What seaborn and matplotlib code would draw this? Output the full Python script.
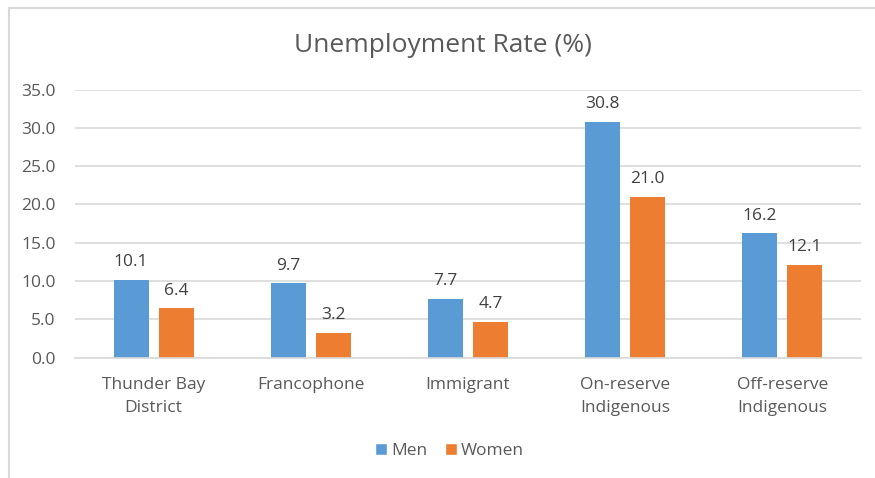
import matplotlib
matplotlib.use("Agg")
import matplotlib.pyplot as plt
import seaborn as sns
import pandas as pd
from matplotlib.patches import Rectangle, Patch

categories = ["Thunder Bay\nDistrict", "Francophone", "Immigrant", "On-reserve\nIndigenous", "Off-reserve\nIndigenous"]
men = [10.1, 9.7, 7.7, 30.8, 16.2]
women = [6.4, 3.2, 4.7, 21.0, 12.1]
series = ["Men", "Women"]
colors = ["#5B9BD5", "#ED7D31"]
yticks = [0, 5, 10, 15, 20, 25, 30, 35]

df = pd.DataFrame({
    "category": categories * 2,
    "value": men + women,
    "series": [series[0]] * len(categories) + [series[1]] * len(categories),
})

sns.set_theme(style="white")
plt.rcParams["font.family"] = ["Open Sans", "DejaVu Sans"]
txt = "#595959"
fs = 12.5

fig = plt.figure(figsize=(8.75, 4.78), dpi=100)
ax = fig.add_axes([75/875, 1-357.5/478, (861-75)/875, (357.5-89.5)/478])

sns.barplot(data=df, x="category", y="value", hue="series", palette=colors,
            width=0.5725, gap=0.222, ax=ax, legend=False, saturation=1, linewidth=0)

for c in ax.containers:
    ax.bar_label(c, fmt="%.1f", padding=7, fontsize=fs, color="#404040")

ax.set_ylim(0, 35)
ax.set_yticks(yticks)
ax.set_yticklabels([f"{v:.1f}" for v in yticks], fontsize=fs, color=txt)
ax.tick_params(axis="x", labelsize=fs, colors=txt, length=0, pad=14)
for lab in ax.get_xticklabels():
    lab.set_linespacing(1.55)
ax.tick_params(axis="y", length=0, pad=14)
ax.set_xlabel("")
ax.set_ylabel("")
ax.grid(axis="y", color="#D9D9D9", linewidth=1.2)
ax.set_axisbelow(True)
for s in ["top", "right", "left"]:
    ax.spines[s].set_visible(False)
ax.spines["bottom"].set_color("#D9D9D9")
ax.spines["bottom"].set_linewidth(1.2)

fig.text(443/875, 1-45/478, "Unemployment Rate (%)", ha="center", va="center",
         fontsize=19, color=txt)

handles = [Patch(facecolor=colors[i], label=series[i]) for i in range(2)]
fig.legend(handles=handles, loc="center", bbox_to_anchor=(449.5/875, 1-451/478),
           ncol=2, frameon=False, fontsize=fs, labelcolor=txt,
           handlelength=0.7, handleheight=0.7, handletextpad=0.25, columnspacing=1.0)

fig.patches.append(Rectangle((8.5/875, -0.1), 2, (1-8.5/478)+0.1, transform=fig.transFigure,
                             fill=False, edgecolor="#D9D9D9", linewidth=1.5))

fig.savefig("out.png", dpi=100, facecolor="white")
